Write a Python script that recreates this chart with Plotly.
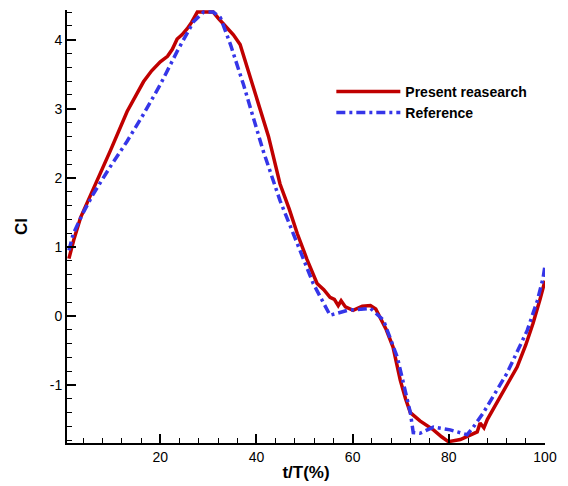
import plotly.graph_objects as go

# Present research (red)
present_t = [1.0, 2.0, 3.4, 5.0, 6.1, 8.0, 9.6, 11.5, 13.1, 15.0, 16.5, 18.2, 20.0, 21.5,
             22.5, 23.5, 24.5, 25.6, 26.5, 27.7, 31.0, 32.2, 33.9, 35.2, 36.6, 38.3,
             40.2, 42.5, 44.9, 46.8, 48.5, 50.5, 52.6, 54.0, 55.3, 56.2, 57.0, 57.6,
             58.5, 60.1, 62.0, 63.7, 64.8, 65.7, 67.0, 68.4, 69.2, 69.9, 71.0, 72.0,
             74.0, 76.8, 78.5, 79.9, 82.4, 84.5, 85.9, 86.5, 87.3, 88.0, 89.5, 90.7,
             92.5, 94.2, 96.0, 97.5, 99.0, 100.0]
present_cl = [0.83, 1.10, 1.42, 1.68, 1.85, 2.14, 2.39, 2.70, 2.96, 3.20, 3.39, 3.55, 3.68, 3.76,
              3.86, 4.01, 4.07, 4.16, 4.25, 4.40, 4.40, 4.30, 4.16, 4.07, 3.93, 3.55,
              3.11, 2.60, 1.91, 1.55, 1.19, 0.82, 0.47, 0.38, 0.27, 0.24, 0.15, 0.22,
              0.13, 0.08, 0.14, 0.15, 0.10, -0.02, -0.20, -0.45, -0.70, -0.93, -1.20, -1.40,
              -1.52, -1.65, -1.75, -1.82, -1.79, -1.72, -1.68, -1.55, -1.62, -1.50, -1.32, -1.17,
              -0.95, -0.74, -0.42, -0.11, 0.25, 0.51]

# Reference (blue)
reference_t = [1.0, 1.9, 4.0, 6.1, 9.5, 13.1, 16.5, 20.0, 23.5, 26.9, 29.0, 31.0, 32.5,
               34.6, 37.3, 41.4, 44.9, 48.5, 51.8, 55.3, 58.9, 63.7, 66.4, 69.3, 72.0,
               72.6, 74.0, 76.8, 80.3, 83.8, 85.0, 87.2, 92.1, 96.3, 98.4, 99.6, 100.0]
reference_cl = [0.95, 1.19, 1.50, 1.77, 2.15, 2.53, 2.92, 3.35, 3.83, 4.26, 4.40, 4.40, 4.32,
                3.93, 3.35, 2.39, 1.67, 1.05, 0.47, 0.01, 0.08, 0.11, -0.06, -0.60, -1.40,
                -1.69, -1.70, -1.61, -1.65, -1.72, -1.62, -1.40, -0.83, -0.21, 0.22, 0.55, 0.73]

y_ticks = [-1, 0, 1, 2, 3, 4]
y_labels = ['-1', '0', '1', '2', '3', '4']
x_ticks = [20, 40, 60, 80, 100]

fig = go.Figure()

fig.add_trace(go.Scatter(
    x=present_t, y=present_cl,
    mode='lines',
    name='Present reasearch',
    line=dict(color='#c00000', width=3.5)
))

fig.add_trace(go.Scatter(
    x=reference_t, y=reference_cl,
    mode='lines',
    name='Reference',
    line=dict(color='#3535e8', width=3.5, dash='9px,4px,3px,4px')
))

# page body has an 8px margin, so the figure is sized to fit the window
fig.update_layout(
    width=560,
    height=478,
    plot_bgcolor='white',
    paper_bgcolor='white',
    font=dict(family='Liberation Sans, Arial, sans-serif', size=14, color='black'),
    margin=dict(l=59, r=23, t=2, b=43),
    showlegend=True,
    legend=dict(
        x=0.553, y=0.848,
        xanchor='left', yanchor='top',
        bgcolor='rgba(0,0,0,0)',
        font=dict(size=14, color='black', family='Liberation Sans, Arial, sans-serif', weight='bold'),
        itemwidth=64,
        tracegroupgap=0
    )
)

fig.update_xaxes(
    title=dict(text='<b>t/T(%)</b>', font=dict(size=17), standoff=2),
    range=[0.6, 100],
    tickvals=x_ticks,
    ticks='inside', ticklen=9, tickwidth=2, tickcolor='black',
    minor=dict(dtick=4, tick0=0, ticks='inside', ticklen=5, tickwidth=1, tickcolor='black'),
    showline=True, linecolor='black', linewidth=2,
    showgrid=False, zeroline=False,
    tickfont=dict(size=14)
)

fig.update_yaxes(
    title=dict(text='<b>Cl</b>', font=dict(size=17), standoff=18),
    range=[-1.84, 4.43],
    tickvals=y_ticks,
    ticktext=y_labels,
    ticks='inside', ticklen=9, tickwidth=2, tickcolor='black',
    minor=dict(dtick=0.2, tick0=0, ticks='inside', ticklen=5, tickwidth=1, tickcolor='black'),
    showline=True, linecolor='black', linewidth=2,
    showgrid=False, zeroline=False,
    tickfont=dict(size=14)
)

fig.write_html("out.html")
